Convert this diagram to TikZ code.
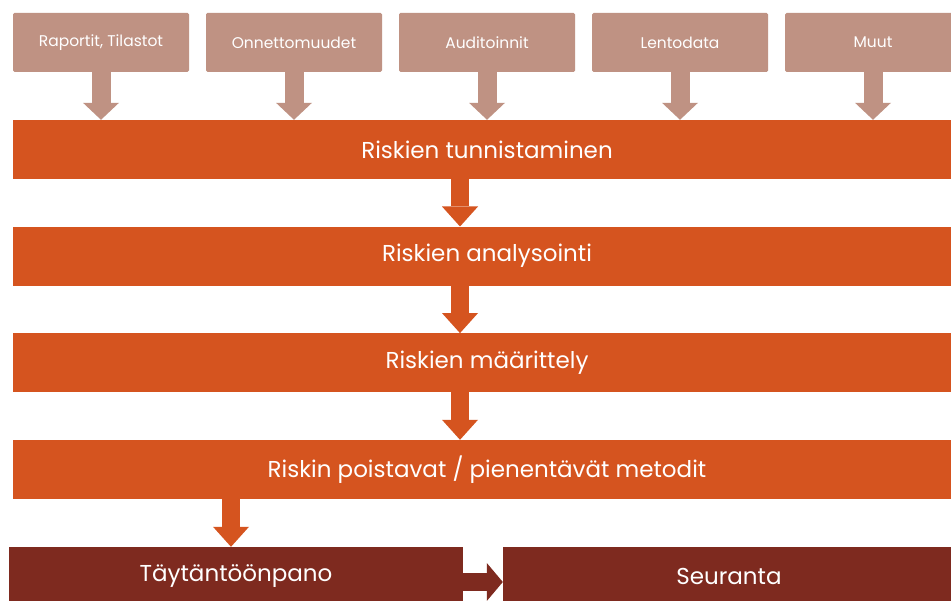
\documentclass[tikz,border=0pt]{standalone}
\usepackage{fontspec}
\setmainfont{Poppins}
\usetikzlibrary{arrows.meta}
\definecolor{srcclr}{RGB}{191,146,131}
\definecolor{stageclr}{RGB}{213,84,31}
\definecolor{finalclr}{RGB}{126,42,31}

\begin{document}
\begin{tikzpicture}[x=1pt, y=-1pt,
    src/.style={rectangle, fill=srcclr, rounded corners=1.5pt, minimum width=176pt, minimum height=59pt, inner sep=0pt, text=white, font=\fontsize{15.5}{18}\selectfont},
    stage/.style={rectangle, fill=stageclr, minimum width=948pt, minimum height=59pt, inner sep=0pt, text=white, font=\fontsize{23}{28}\selectfont},
    final/.style={rectangle, fill=finalclr, minimum height=59pt, inner sep=0pt, text=white, font=\fontsize{23}{28}\selectfont},
    srcarrow/.style={draw=srcclr, line width=19pt, -{Triangle[width=36pt, length=17pt, line width=0pt]}},
    stagearrow/.style={draw=stageclr, line width=18pt, -{Triangle[width=36pt, length=20pt, line width=0pt]}},
    finalarrow/.style={draw=finalclr, line width=18pt, -{Triangle[width=38pt, length=16pt, line width=0pt]}}]
            \clip (0,0) rectangle (951,601);
            \fill[white] (0,0) rectangle (951,601);

            \node[src] (raportit) at (101,42.5) {Raportit, Tilastot};
            \node[src] (onnettomuudet) at (294,42.5) {Onnettomuudet};
            \node[src] (auditoinnit) at (487,42.5) {Auditoinnit};
            \node[src] (lentodata) at (680,42.5) {Lentodata};
            \node[src] (muut) at (873,42.5) {Muut};

            \node[stage] (tunnistaminen) at (487,149.5) {Riskien tunnistaminen};
            \node[stage] (analysointi) at (487,256.2) {Riskien analysointi};
            \node[stage] (maarittely) at (487,362.8) {Riskien määrittely};
            \node[stage] (metodit) at (487,469.5) {Riskin poistavat / pienentävät metodit};

            \node[final, minimum width=454pt] (toimeenpano) at (236,576.5) {Täytäntöönpano};
            \node[final, minimum width=452pt] (seuranta) at (729,576.5) {Seuranta};

            \draw[srcarrow] (raportit.south) -- (raportit.south |- tunnistaminen.north);
            \draw[srcarrow] (onnettomuudet.south) -- (onnettomuudet.south |- tunnistaminen.north);
            \draw[srcarrow] (auditoinnit.south) -- (auditoinnit.south |- tunnistaminen.north);
            \draw[srcarrow] (lentodata.south) -- (lentodata.south |- tunnistaminen.north);
            \draw[srcarrow] (muut.south) -- (muut.south |- tunnistaminen.north);

            \draw[stagearrow] ([xshift=-27pt]tunnistaminen.south) -- ([xshift=-27pt]analysointi.north);
            \draw[stagearrow] ([xshift=-27pt]analysointi.south) -- ([xshift=-27pt]maarittely.north);
            \draw[stagearrow] ([xshift=-27pt]maarittely.south) -- ([xshift=-27pt]metodit.north);
            \draw[stagearrow] ([xshift=-256pt]metodit.south) -- ([xshift=-5pt]toimeenpano.north);

            \draw[finalarrow] ([yshift=-5.5pt]toimeenpano.east) -- ([yshift=-5.5pt]seuranta.west);

        \end{tikzpicture}
\end{document}
